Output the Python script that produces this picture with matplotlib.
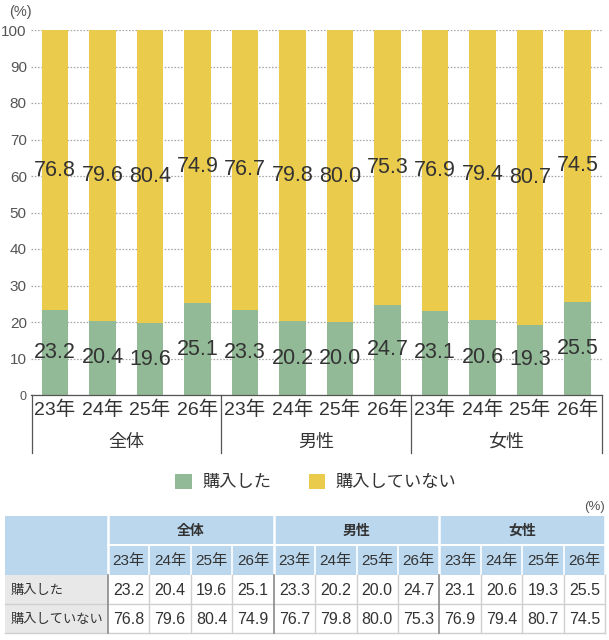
import matplotlib
matplotlib.use('Agg')
import matplotlib.pyplot as plt
from matplotlib.patches import Rectangle, Patch

plt.rcParams['font.family'] = ['Liberation Sans', 'Noto Sans CJK JP', 'DejaVu Sans']

# ---- data ----
groups = ['全体', '男性', '女性']
years = ['23年', '24年', '25年', '26年']
series_names = ['購入した', '購入していない']
purchased = [23.2, 20.4, 19.6, 25.1, 23.3, 20.2, 20.0, 24.7, 23.1, 20.6, 19.3, 25.5]
not_purchased = [76.8, 79.6, 80.4, 74.9, 76.7, 79.8, 80.0, 75.3, 76.9, 79.4, 80.7, 74.5]
yticks = [0, 10, 20, 30, 40, 50, 60, 70, 80, 90, 100]

GREEN = '#93BA97'
YELLOW = '#EBCB4B'
TXT = '#333333'

W, H = 609, 640
fig = plt.figure(figsize=(W / 100, H / 100), dpi=100)


def fx(px):
    return px / W


def fy(py):
    return 1 - py / H


# ---- chart ----
ax = fig.add_axes([fx(31), fy(395), fx(602) - fx(31), fy(30) - fy(395)])
n = len(purchased)
xs = list(range(n))
ax.bar(xs, purchased, width=0.55, color=GREEN, zorder=2)
ax.bar(xs, not_purchased, bottom=purchased, width=0.55, color=YELLOW, zorder=2)
ax.set_xlim(-0.505, 11.516)
ax.set_ylim(0, 100)
ax.set_yticks(yticks)
ax.set_yticklabels([str(t) for t in yticks])
ax.set_xticks([])
ax.set_axisbelow(True)
ax.yaxis.grid(True, linestyle=(0, (1.3, 1.3)), color='#a8a8a8', lw=0.9)
for s in ['top', 'right', 'left']:
    ax.spines[s].set_visible(False)
ax.spines['bottom'].set_color('#555555')
ax.spines['bottom'].set_linewidth(0.9)
ax.tick_params(axis='y', length=0, pad=3, labelsize=11, labelcolor='#555555')
ax.get_yticklabels()[0].set_fontsize(9)

for i in xs:
    p = purchased[i]
    q = not_purchased[i]
    ax.text(i, p / 2, f'{p:.1f}', ha='center', va='center', fontsize=15.5, color=TXT, zorder=3)
    ax.text(i, p + q / 2, f'{q:.1f}', ha='center', va='center', fontsize=15.5, color=TXT, zorder=3)

trans = ax.get_xaxis_transform()
for i in xs:
    ax.text(i, -0.041, years[i % 4], ha='center', va='center', fontsize=14, color=TXT,
            transform=trans)
for g, name in enumerate(groups):
    ax.text(1.5 + 4 * g, -0.129, name, ha='center', va='center', fontsize=13, color=TXT,
            transform=trans)
for xv in [-0.48, 3.5, 7.5, 11.516]:
    ax.plot([xv, xv], [0, -0.159], transform=trans, clip_on=False, color='#555555', lw=0.9)

fig.text(fx(9), fy(12), '(%)', ha='left', va='center', fontsize=10.5, color='#555555')

# ---- legend ----
handles = [Patch(facecolor=GREEN, edgecolor='none', label=series_names[0]),
           Patch(facecolor=YELLOW, edgecolor='none', label=series_names[1])]
fig.legend(handles=handles, loc='center', bbox_to_anchor=(fx(316), fy(482)), ncol=2,
           frameon=False, fontsize=12.4, handlelength=0.95, handleheight=0.95,
           columnspacing=2.2, handletextpad=0.6, labelcolor=TXT)

# ---- table ----
tax = fig.add_axes([0, 0, 1, 1], zorder=-1)
tax.set_xlim(0, W)
tax.set_ylim(H, 0)
tax.axis('off')

x0, c0w, x1 = 5, 103, 605
cw = (x1 - x0 - c0w) / 12
rows_y = [516, 545, 575, 604, 633]
BLUE = '#BAD7EE'
GRAY = '#E8E8E8'

# header background
tax.add_patch(Rectangle((x0, rows_y[0]), x1 - x0, rows_y[2] - rows_y[0], facecolor=BLUE, edgecolor='none'))
# first column data cells
tax.add_patch(Rectangle((x0, rows_y[2]), c0w, rows_y[4] - rows_y[2], facecolor=GRAY, edgecolor='none'))
# data area
tax.add_patch(Rectangle((x0 + c0w, rows_y[2]), x1 - x0 - c0w, rows_y[4] - rows_y[2], facecolor='white', edgecolor='none'))

# header lines (white)
tax.plot([x0 + c0w, x1], [rows_y[1], rows_y[1]], color='white', lw=1.5)
for k in range(13):
    xv = x0 + c0w + k * cw
    if k % 4 == 0:
        tax.plot([xv, xv], [rows_y[0], rows_y[2]], color='white', lw=1.8)
    else:
        tax.plot([xv, xv], [rows_y[1], rows_y[2]], color='white', lw=1.2)
# data lines
for yv in [rows_y[3], rows_y[4]]:
    tax.plot([x0, x1], [yv, yv], color='#CFCFCF', lw=1.0)
for k in range(13):
    xv = x0 + c0w + k * cw
    if k % 4 == 0 and k < 12:
        tax.plot([xv, xv], [rows_y[2], rows_y[4]], color='#8A8A8A', lw=1.2)
    else:
        tax.plot([xv, xv], [rows_y[2], rows_y[4]], color='#CFCFCF', lw=1.0)

# header texts
for g, name in enumerate(groups):
    cx = x0 + c0w + (4 * g + 2) * cw
    tax.text(cx, (rows_y[0] + rows_y[1]) / 2, name, ha='center', va='center', fontsize=10,
             fontweight='bold', color=TXT)
for k in range(12):
    cx = x0 + c0w + (k + 0.5) * cw
    tax.text(cx, (rows_y[1] + rows_y[2]) / 2 + 1, years[k % 4], ha='center', va='center',
             fontsize=11, color=TXT)
# row labels and values
for r, (label, vals) in enumerate(zip(series_names, [purchased, not_purchased])):
    cy = (rows_y[2 + r] + rows_y[3 + r]) / 2 + 1
    tax.text(x0 + 6, cy, label, ha='left', va='center', fontsize=9.5, color=TXT)
    for k, v in enumerate(vals):
        cx = x0 + c0w + (k + 0.5) * cw
        tax.text(cx, cy, f'{v:.1f}', ha='center', va='center', fontsize=11.5, color=TXT)

fig.text(fx(605), fy(507), '(%)', ha='right', va='center', fontsize=9.5, color='#555555')

fig.savefig('out.png', dpi=100)
